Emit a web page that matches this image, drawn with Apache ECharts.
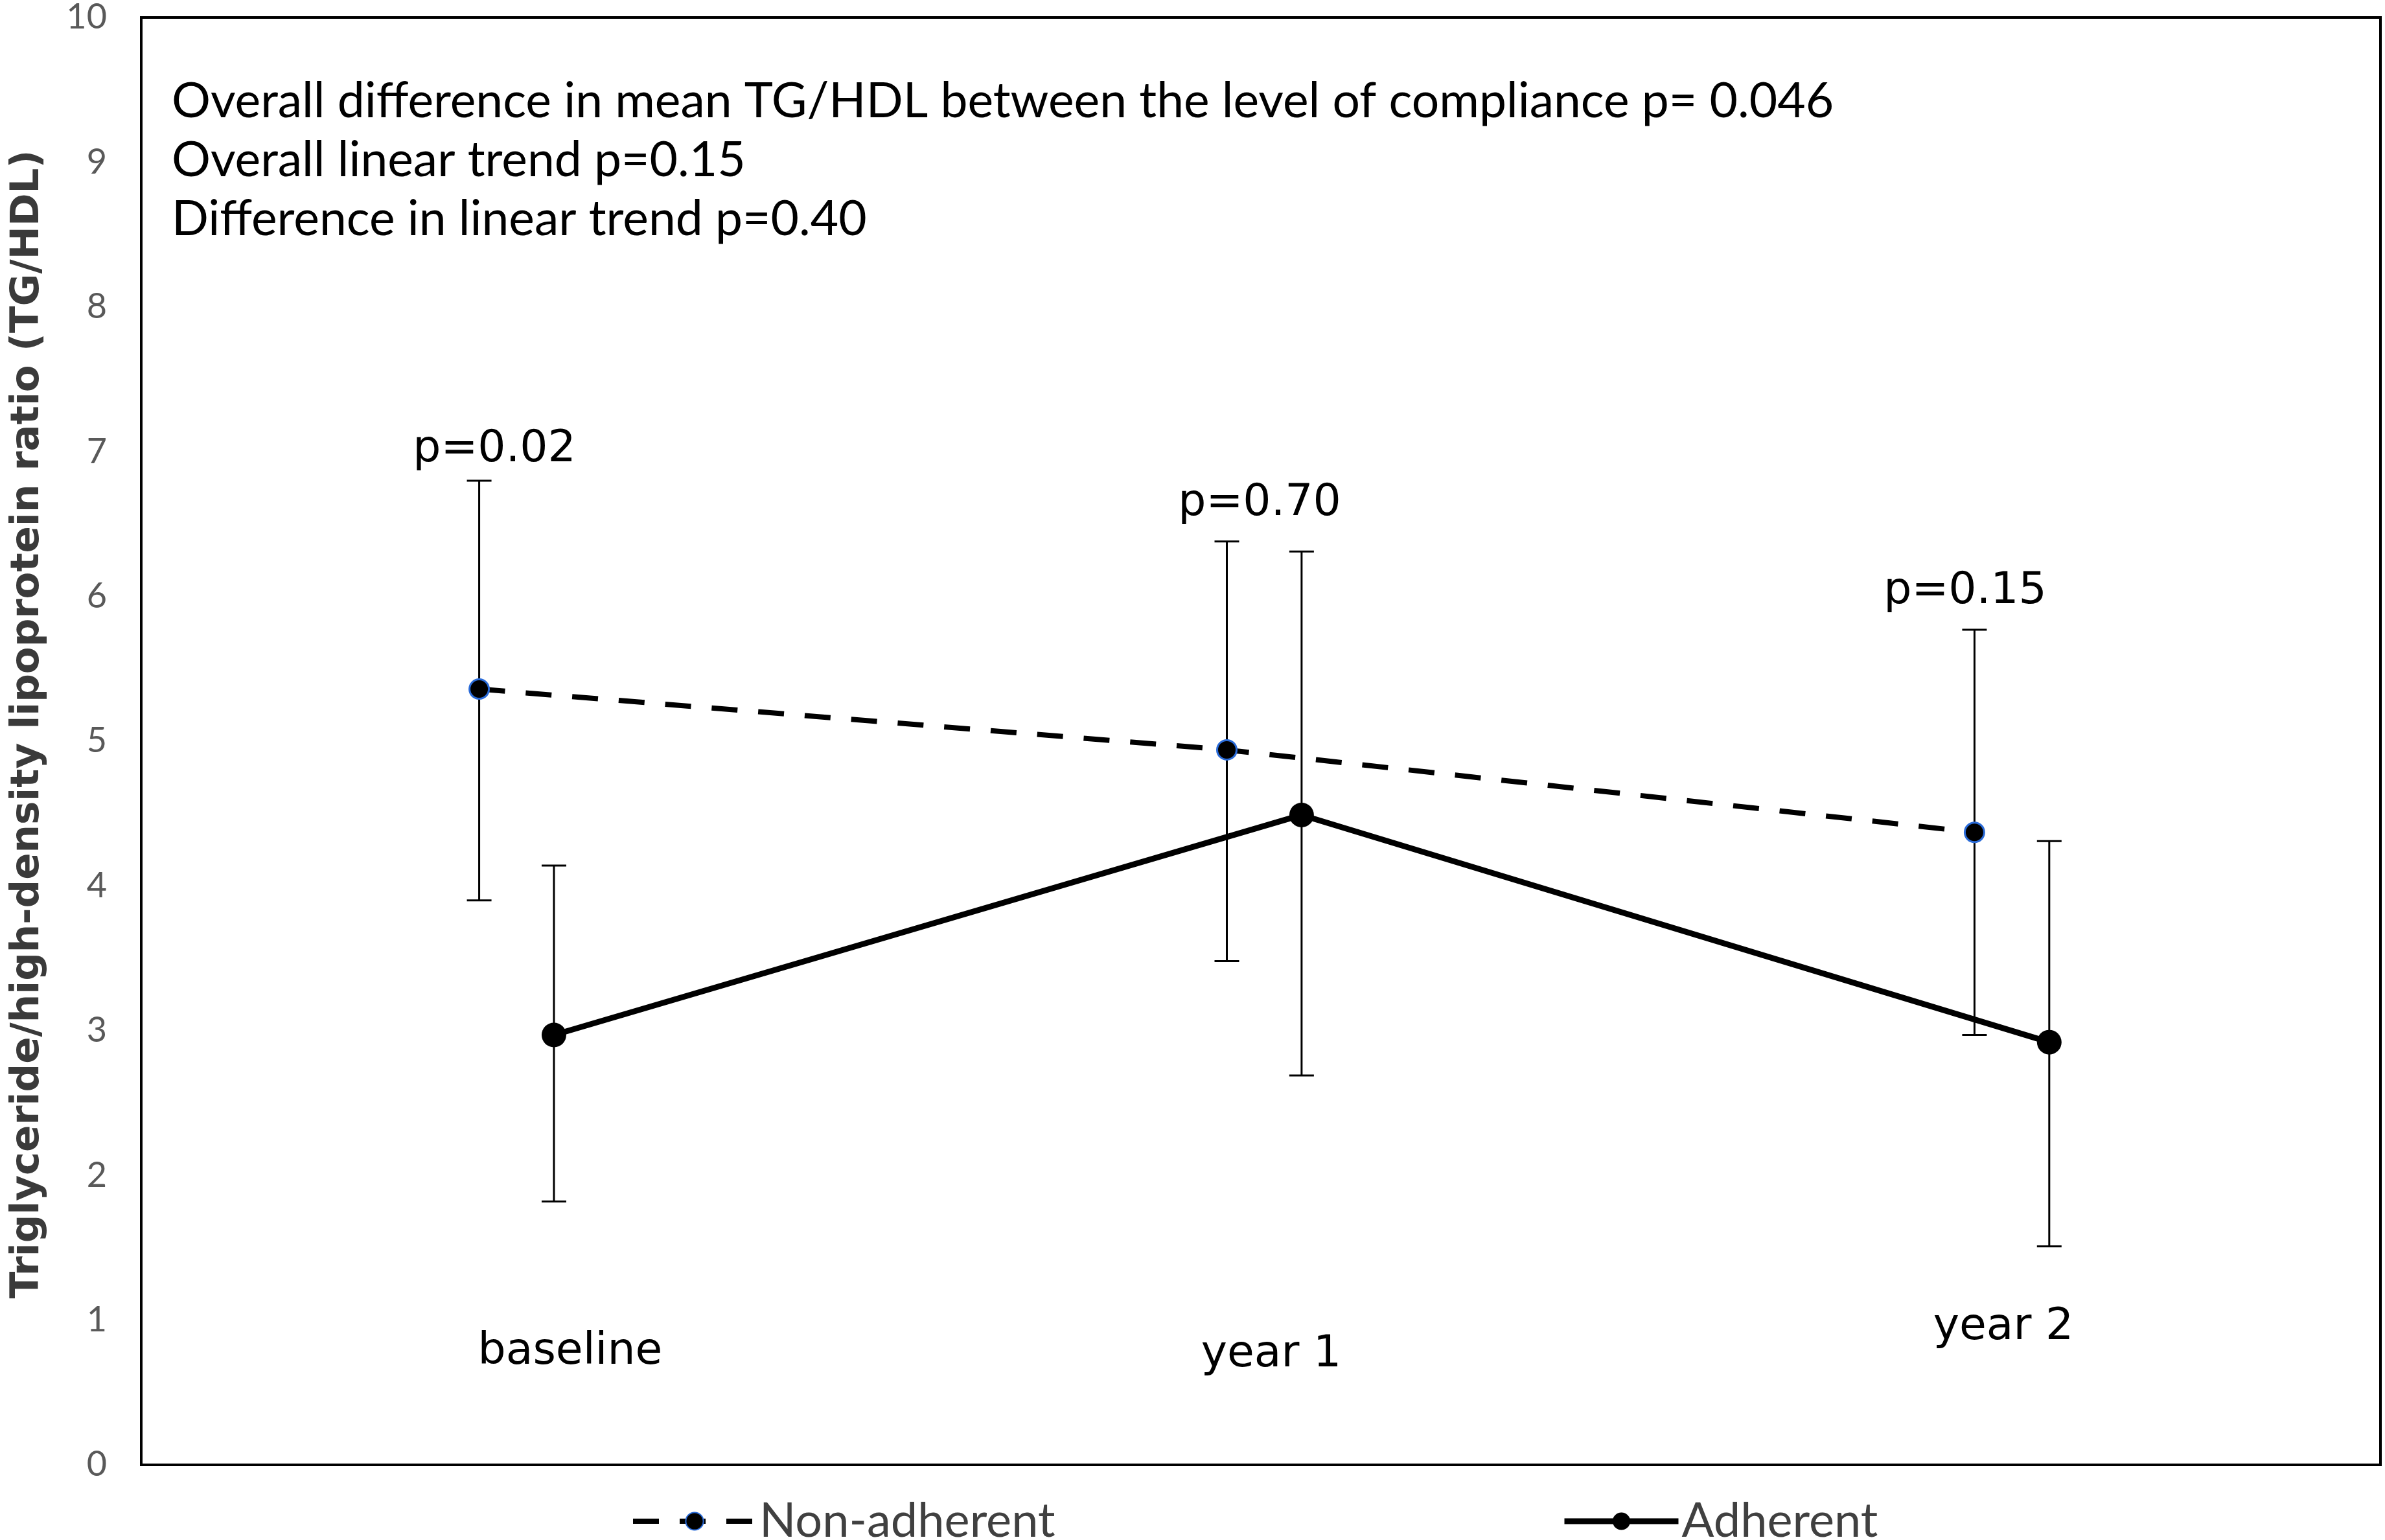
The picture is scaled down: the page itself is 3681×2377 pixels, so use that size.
<!DOCTYPE html>
<html>
<head>
<meta charset="utf-8">
<title>TG/HDL by compliance</title>
<script src="https://cdn.jsdelivr.net/npm/echarts@6/dist/echarts.min.js"></script>
<style>
    html, body { margin: 0; padding: 0; background: #fff; }
    #chartDiv { width: 3681px; height: 2377px; }
</style>
</head>
<body>
<div id="chartDiv"></div>
<script>
// time points (x = 1, 2, 3), adherent group drawn slightly to the right
var timePoints = ['baseline', 'year 1', 'year 2'];
var naX = [1, 2, 3];
var adX = [1.1, 2.1, 3.1];

// Non-adherent: mean and error bar ends
var naMean = [5.36, 4.94, 4.37];
var naLow = [3.90, 3.48, 2.97];
var naHigh = [6.80, 6.38, 5.77];

// Adherent: mean and error bar ends
var adMean = [2.97, 4.49, 2.92];
var adLow = [1.82, 2.69, 1.51];
var adHigh = [4.14, 6.31, 4.31];

var pLabels = ['p=0.02', 'p=0.70', 'p=0.15'];
var notes = [
    'Overall difference in mean TG/HDL between the level of compliance p= 0.046',
    'Overall linear trend p=0.15',
    'Difference in linear trend p=0.40'
];

function pairs(xs, ys) {
    var out = [];
    for (var i = 0; i < xs.length; i++) {
        out.push([xs[i], ys[i]]);
    }
    return out;
}

function bars(xs, lo, hi) {
    var out = [];
    for (var i = 0; i < xs.length; i++) {
        out.push([xs[i], lo[i], hi[i]]);
    }
    return out;
}

function errorBar(params, api) {
    var top = api.coord([api.value(0), api.value(2)]);
    var bot = api.coord([api.value(0), api.value(1)]);
    var half = 19;
    var st = {stroke: '#000', lineWidth: 3};
    return {
        type: 'group',
        children: [
            {type: 'line', shape: {x1: top[0], y1: top[1], x2: bot[0], y2: bot[1]}, style: st},
            {type: 'line', shape: {x1: top[0] - half, y1: top[1], x2: top[0] + half, y2: top[1]}, style: st},
            {type: 'line', shape: {x1: bot[0] - half, y1: bot[1], x2: bot[0] + half, y2: bot[1]}, style: st}
        ]
    };
}

var myChart = echarts.init(document.getElementById('chartDiv'));

var graphics = [];
for (var i = 0; i < notes.length; i++) {
    graphics.push({
        type: 'text', x: 265, y: 157 + i * 91,
        style: {text: notes[i], font: '75px Lato', fill: '#000', verticalAlign: 'middle'}
    });
}
var pPos = [[763, 694], [1944, 777], [3033, 913]];
var tPos = [[880, 2087], [1962, 2091], [3092, 2049]];
for (var j = 0; j < 3; j++) {
    graphics.push({
        type: 'text', x: pPos[j][0], y: pPos[j][1],
        style: {text: pLabels[j], font: '68px "DejaVu Sans"', fill: '#000', align: 'center', verticalAlign: 'middle'}
    });
    graphics.push({
        type: 'text', x: tPos[j][0], y: tPos[j][1],
        style: {text: timePoints[j], font: '68px "DejaVu Sans"', fill: '#000', align: 'center', verticalAlign: 'middle'}
    });
}

myChart.setOption({
    backgroundColor: '#fff',
    animation: false,
    grid: {
        left: 218, right: 7, top: 23, bottom: 116,
        show: true, borderColor: '#000', borderWidth: 4
    },
    legend: [
        {
            data: ['Non-adherent'], left: 968, top: 2306,
            itemWidth: 190, itemHeight: 34, itemGap: 10,
            lineStyle: {width: 8},
            textStyle: {fontFamily: 'Lato', fontSize: 74, color: '#404040'}
        },
        {
            data: ['Adherent'], left: 2405, top: 2306,
            itemWidth: 176, itemHeight: 34, itemGap: 10,
            lineStyle: {width: 9},
            textStyle: {fontFamily: 'Lato', fontSize: 74, color: '#404040'}
        }
    ],
    xAxis: {
        type: 'value', min: 0.548, max: 3.543,
        axisLine: {show: false}, axisTick: {show: false},
        axisLabel: {show: false}, splitLine: {show: false}
    },
    yAxis: {
        type: 'value', min: 0, max: 10, interval: 1,
        name: 'Triglyceride/high-density lipoprotein ratio (TG/HDL)',
        nameLocation: 'middle', nameGap: 144,
        nameTextStyle: {
            fontFamily: 'DejaVu Sans', fontWeight: 'bold', fontSize: 61, color: '#3a3a3a',
            padding: [0, 0, 0, 52]
        },
        axisLine: {show: false}, axisTick: {show: false},
        axisLabel: {fontFamily: 'Lato', fontSize: 54, color: '#595959', margin: 53},
        splitLine: {show: false}
    },
    graphic: graphics,
    series: [
        {
            name: 'Non-adherent', type: 'line',
            data: pairs(naX, naMean),
            symbol: 'circle', symbolSize: 30,
            itemStyle: {color: '#000', borderColor: '#2a6bd8', borderWidth: 3},
            lineStyle: {color: '#000', width: 8, type: [40, 32]},
            z: 4
        },
        {
            name: 'Adherent', type: 'line',
            data: pairs(adX, adMean),
            symbol: 'circle', symbolSize: 38,
            itemStyle: {color: '#000'},
            lineStyle: {color: '#000', width: 9},
            z: 4
        },
        {
            type: 'custom', renderItem: errorBar,
            data: bars(naX, naLow, naHigh), z: 3
        },
        {
            type: 'custom', renderItem: errorBar,
            data: bars(adX, adLow, adHigh), z: 3
        }
    ]
});
</script>
</body>
</html>
